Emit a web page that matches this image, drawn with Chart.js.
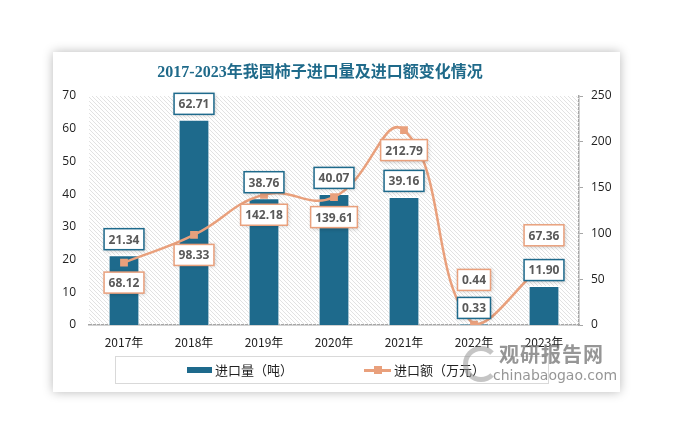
<!DOCTYPE html>
<html>
<head>
<meta charset="utf-8">
<script src="https://cdn.jsdelivr.net/npm/chart.js@4.4.1/dist/chart.umd.min.js"></script>
<style>
body{margin:0;width:678px;height:446px;background:#fff;position:relative;overflow:hidden;font-family:"Noto Sans CJK SC",sans-serif}
#card{position:absolute;left:53px;top:52px;width:567px;height:340px;background:#fff;box-shadow:0 0 10px rgba(0,0,0,0.28)}
#title{position:absolute;left:0;top:9px;width:534px;text-align:center;font:bold 16px "Liberation Serif","Noto Sans CJK SC",serif;color:#1f6a8a;line-height:22px}
#chart{position:absolute;left:0;top:0}
#legend{position:absolute;left:62px;top:304px;width:432px;height:26px;border:1px solid #d9d9d9;font-size:13px;color:#222}
.item{position:absolute;top:3px;line-height:20px}
.sw{position:absolute}
#wm{position:absolute;left:400px;top:290px;width:160px;height:45px;color:rgba(110,110,110,0.72);pointer-events:none}
#wm .big{position:absolute;left:46px;top:0;font:bold 20px "Noto Sans CJK SC";letter-spacing:1px;line-height:24px}
#wm .small{position:absolute;left:40px;top:24px;font:14px "DejaVu Sans",sans-serif;line-height:18px}
#wm .logo{position:absolute;left:10px;top:4px;width:26px;height:26px;border:5px solid rgba(150,150,150,0.55);border-radius:50%;border-right-color:transparent}
</style>
</head>
<body>
<div id="card">
  <canvas id="chart" width="567" height="340"></canvas>
  <div id="title">2017-2023年我国柿子进口量及进口额变化情况</div>
  <div id="legend"></div>
  <div id="wm"><div class="logo"></div><div class="big">观研报告网</div><div class="small">chinabaogao.com</div></div>
</div>
<script>
// 数据
const years = ['2017年', '2018年', '2019年', '2020年', '2021年', '2022年', '2023年'];
const importQty = [21.34, 62.71, 38.76, 40.07, 39.16, 0.33, 11.90];     // 进口量（吨）
const importAmt = [68.12, 98.33, 142.18, 139.61, 212.79, 0.44, 67.36];  // 进口额（万元）
const amtLabelSide = ['below', 'below', 'below', 'below', 'below', 'above', 'above'];

const barColor = '#1e6a8c';
const lineColor = '#e9a07c';

// 斜线底纹
const hatch = {
  id: 'hatch',
  beforeDatasetsDraw(chart) {
    const { ctx, chartArea: a } = chart;
    const h = a.bottom - a.top;
    ctx.save();
    ctx.beginPath();
    ctx.rect(a.left, a.top, a.right - a.left, h);
    ctx.clip();
    ctx.strokeStyle = '#e2e2e2';
    ctx.lineWidth = 1;
    ctx.beginPath();
    for (let x = a.left - h; x < a.right; x += 4) {
      ctx.moveTo(x, a.top);
      ctx.lineTo(x + h, a.bottom);
    }
    ctx.stroke();
    ctx.restore();
  }
};

function box(ctx, text, cx, cy, border) {
  ctx.font = 'bold 12px "Open Sans"';
  const w = ctx.measureText(text).width + 9;
  const hgt = 21;
  ctx.save();
  ctx.shadowColor = 'rgba(0,0,0,0.22)';
  ctx.shadowBlur = 4;
  ctx.shadowOffsetX = 1;
  ctx.shadowOffsetY = 1;
  ctx.fillStyle = '#fff';
  ctx.fillRect(cx - w / 2, cy - hgt / 2, w, hgt);
  ctx.restore();
  ctx.strokeStyle = border;
  ctx.lineWidth = 1.5;
  ctx.strokeRect(cx - w / 2, cy - hgt / 2, w, hgt);
  ctx.fillStyle = '#595959';
  ctx.textAlign = 'center';
  ctx.textBaseline = 'middle';
  ctx.fillText(text, cx, cy + 1);
}

// 数据标签
const valueLabels = {
  id: 'valueLabels',
  afterDatasetsDraw(chart) {
    const ctx = chart.ctx;
    const bars = chart.getDatasetMeta(0).data;
    const pts = chart.getDatasetMeta(1).data;
    ctx.save();
    bars.forEach((b, i) => {
      const by = b.y - 16;
      box(ctx, importQty[i].toFixed(2), b.x, by, barColor);
      const p = pts[i];
      let ly = amtLabelSide[i] === 'below' ? p.y + 20 : Math.min(p.y, by) - 28;
      box(ctx, importAmt[i].toFixed(2), p.x, ly, lineColor);
    });
    ctx.restore();
  }
};

const chart = new Chart(document.getElementById('chart'), {
  data: {
    labels: years,
    datasets: [
      {
        type: 'bar',
        label: '进口量（吨）',
        data: importQty,
        yAxisID: 'y',
        backgroundColor: barColor,
        borderColor: '#fff',
        borderWidth: 1,
        barPercentage: 0.44,
        categoryPercentage: 1,
        order: 2
      },
      {
        type: 'line',
        label: '进口额（万元）',
        data: importAmt,
        yAxisID: 'y1',
        borderColor: lineColor,
        borderWidth: 2.5,
        tension: 0.45,
        pointStyle: 'rect',
        pointRadius: 5.5,
        pointBackgroundColor: lineColor,
        pointBorderWidth: 0,
        order: 1
      }
    ]
  },
  options: {
    responsive: false,
    animation: false,
    layout: { padding: { top: 44, bottom: 0, left: 0, right: 0 } },
    plugins: { legend: { display: false }, tooltip: { enabled: false } },
    scales: {
      x: {
        grid: { display: false, drawTicks: false },
        border: { color: '#a6a6a6', width: 1.5 },
        ticks: { color: '#222', font: { size: 12, family: 'Noto Sans CJK SC' }, padding: 10 },
        afterFit(s) { s.height = 67; }
      },
      y: {
        position: 'left',
        min: 0, max: 70,
        ticks: { stepSize: 10, color: '#222', font: { size: 12, family: 'Open Sans' }, padding: 13 },
        grid: { display: false, drawTicks: false },
        border: { display: false },
        afterFit(s) { s.width = 36; }
      },
      y1: {
        position: 'right',
        min: 0, max: 250,
        ticks: { stepSize: 50, color: '#222', font: { size: 12, family: 'Open Sans' }, padding: 8 },
        grid: { display: true, drawOnChartArea: false, drawTicks: true, tickLength: 4, color: '#a6a6a6' },
        border: { color: '#a6a6a6', width: 1.5 },
        afterFit(s) { s.width = 41; }
      }
    }
  },
  plugins: [hatch, valueLabels]
});

// 图例
const legend = document.getElementById('legend');
legend.innerHTML =
  '<div class="sw" style="left:71px;top:10px;width:25px;height:6px;background:' + barColor + '"></div>' +
  '<div class="item" style="left:99px">' + chart.data.datasets[0].label + '</div>' +
  '<div class="sw" style="left:248px;top:12px;width:27px;height:3px;background:' + lineColor + '"></div>' +
  '<div class="sw" style="left:258px;top:9px;width:8px;height:8px;background:' + lineColor + '"></div>' +
  '<div class="item" style="left:278px">' + chart.data.datasets[1].label + '</div>';
</script>
</body>
</html>
